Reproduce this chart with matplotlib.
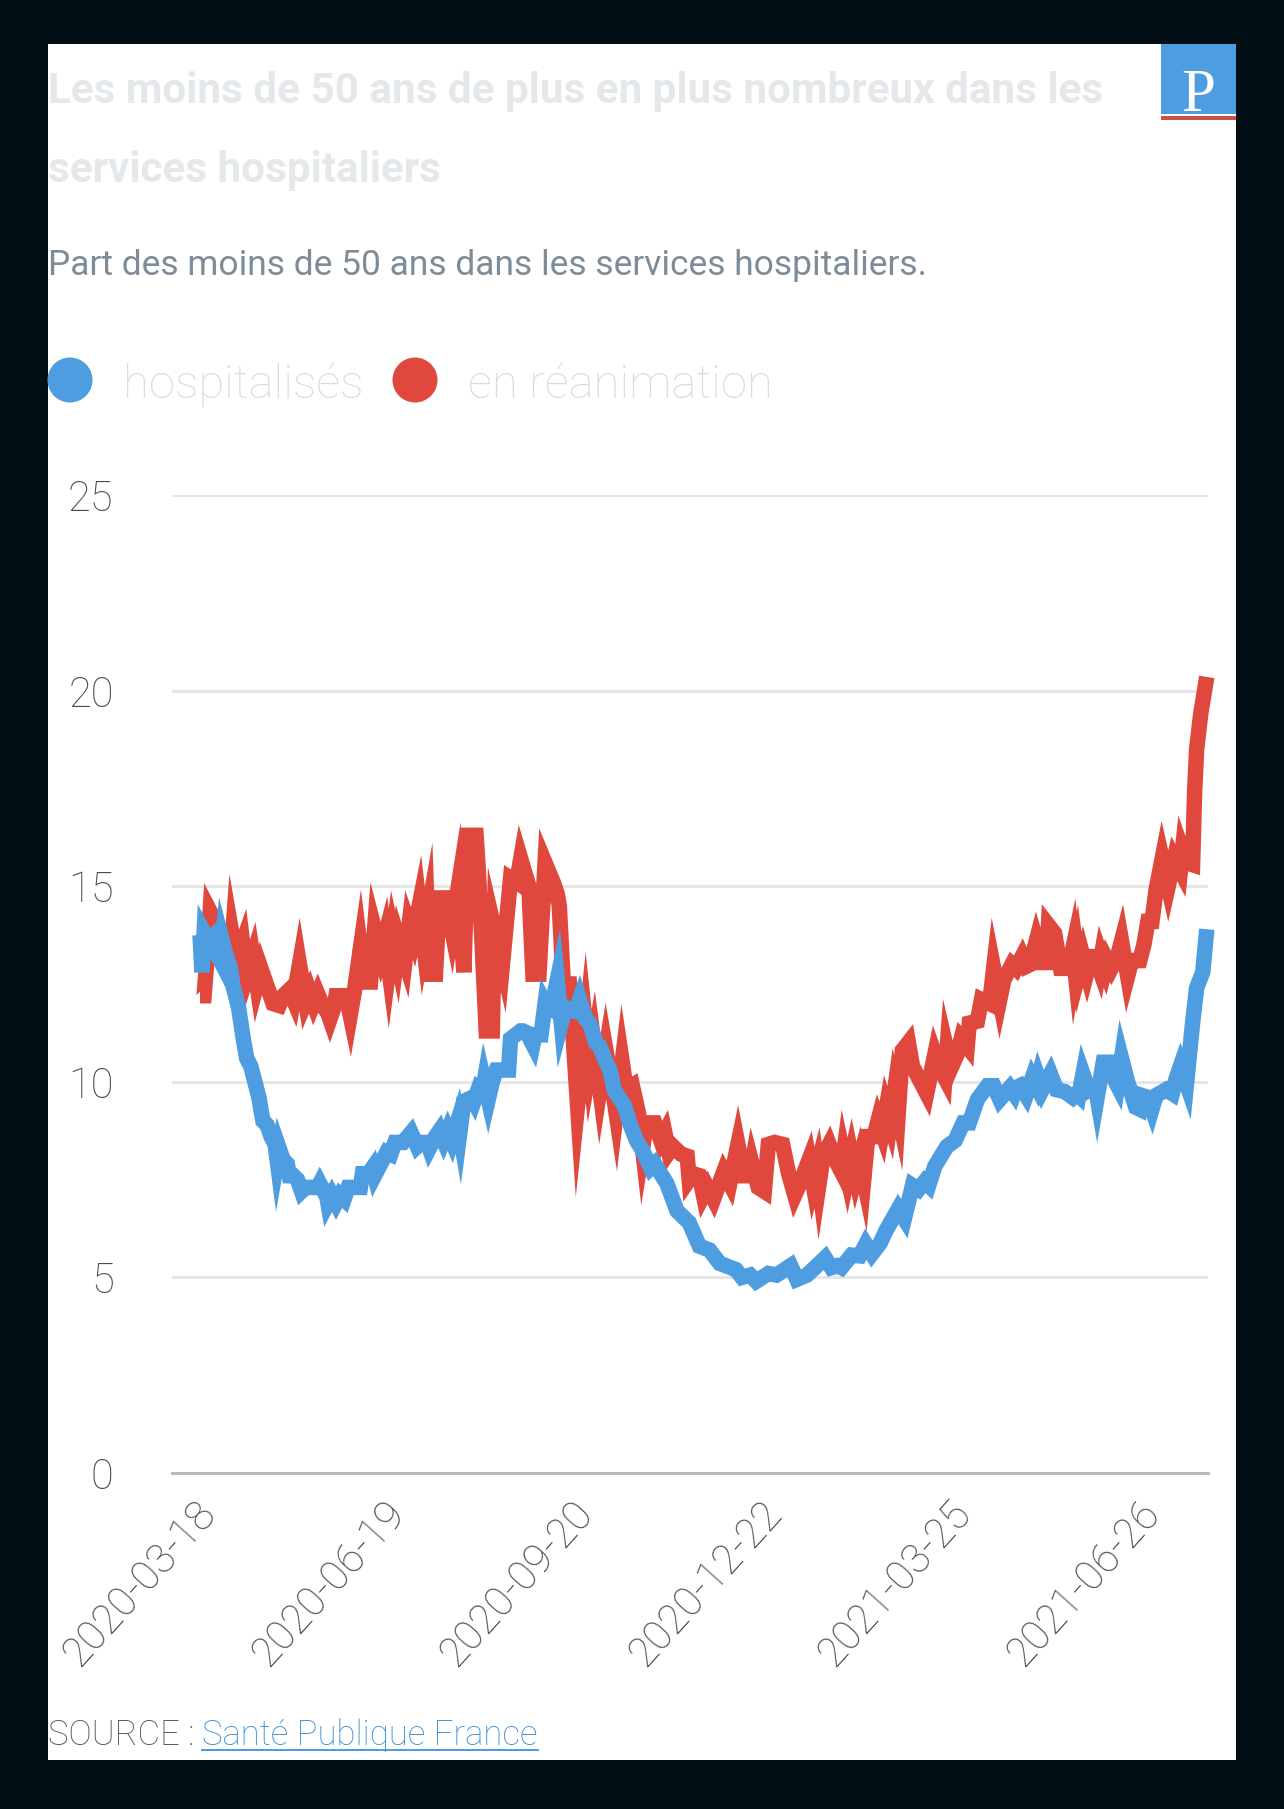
import matplotlib
matplotlib.use("Agg")
import matplotlib.pyplot as plt
from matplotlib.patches import Rectangle, Ellipse
from matplotlib.transforms import Bbox, Affine2D

title_lines = ["Les moins de 50 ans de plus en plus nombreux dans les", "services hospitaliers"]
subtitle = "Part des moins de 50 ans dans les services hospitaliers."
legend_labels = ["hospitalisés", "en réanimation"]
source_prefix = "SOURCE : "
source_link = "Santé Publique France"

x_tick_days = [0, 93, 186, 279, 372, 465]
x_tick_labels = ["2020-03-18", "2020-06-19", "2020-09-20", "2020-12-22", "2021-03-25", "2021-06-26"]
y_ticks = [0, 5, 10, 15, 20, 25]

blue_days = [0,1,2,4,6,8,10,11,13,15,16,19,21,23,25,27,29,31,33,35,37,38,39,41,43,44,46,48,50,52,54,56,58,59,61,62,63,65,67,69,71,73,75,79,80,83,85,86,88,90,92,94,96,100,104,107,109,112,113,116,118,120,122,124,127,128,129,130,134,135,137,139,140,142,144,146,152,153,158,159,161,164,165,168,170,171,173,176,178,180,182,185,187,190,192,195,197,200,202,204,207,209,212,215,218,222,224,230,235,241,246,251,256,264,267,271,274,280,284,291,294,299,304,308,311,314,316,321,325,328,331,335,338,344,347,351,354,357,359,362,368,372,376,379,383,388,391,394,399,401,402,404,407,410,412,413,415,419,422,426,430,432,433,435,436,438,441,442,445,448,451,452,454,457,461,463,464,467,469,471,476,479,481,483,486,489,491,494,496]
blue_vals = [13.75,12.8,13.8,13.6,13.7,13.3,13.1,13.6,13.2,12.9,12.5,11.9,11.2,10.6,10.4,10.0,9.6,9.0,8.9,8.6,8.4,8.0,8.3,8.0,7.9,7.6,7.6,7.5,7.2,7.3,7.3,7.3,7.3,7.4,7.2,7.2,6.9,7.1,6.9,7.1,7.0,7.3,7.3,7.3,7.65,7.65,7.8,7.6,7.8,8.0,8.2,8.15,8.45,8.45,8.7,8.35,8.45,8.45,8.3,8.6,8.75,8.5,8.75,8.5,9.0,8.7,9.1,9.5,9.6,9.5,9.8,9.7,10.0,9.55,10.0,10.3,10.3,11.1,11.3,11.3,11.25,10.95,11.2,11.2,12.0,11.9,11.85,12.6,11.5,11.9,11.85,11.8,12.1,11.6,11.5,11.0,10.9,10.5,10.3,9.8,9.55,9.4,8.9,8.5,8.25,7.8,7.9,7.4,6.7,6.4,5.8,5.7,5.36,5.2,5.0,5.06,4.9,5.1,5.06,5.3,4.95,5.06,5.3,5.5,5.25,5.3,5.25,5.57,5.55,5.85,5.6,5.87,6.2,6.75,6.5,7.35,7.25,7.45,7.35,7.84,8.35,8.5,8.95,8.95,9.55,9.9,9.9,9.55,9.85,9.7,9.85,9.9,9.65,10.1,9.9,10.1,9.8,10.2,9.8,9.75,9.6,9.7,9.65,10.2,10.05,9.8,9.9,9.6,10.5,10.5,10.0,9.9,10.6,10.0,9.35,9.3,9.65,9.6,9.3,9.65,9.8,9.7,10.1,10.4,9.95,11.5,12.4,12.8,13.9]

red_days = [0,2,4,5,7,9,11,13,15,16,18,21,23,26,28,30,33,36,39,41,44,46,49,52,54,56,58,60,63,64,66,67,72,74,76,79,81,84,86,89,91,93,95,97,98,101,103,105,108,110,112,113,116,118,121,124,127,130,132,136,137,139,141,144,145,149,153,156,158,162,164,167,170,174,176,177,179,182,183,186,190,192,194,197,200,203,205,208,210,213,216,218,220,224,227,229,231,233,237,240,241,243,246,248,250,253,258,261,265,268,271,272,275,278,280,283,287,290,293,296,300,302,304,305,307,310,313,316,317,319,321,323,325,327,329,332,334,336,338,340,342,344,346,349,351,355,358,362,364,367,368,370,373,375,378,379,383,385,389,391,394,396,400,402,405,407,409,412,415,417,418,421,424,428,430,431,432,433,435,437,439,441,443,444,446,447,449,452,454,456,457,459,462,463,465,467,469,471,474,477,480,483,484,486,489,490,491,493,496]
red_vals = [12.2,12.2,13.5,14.35,14.15,13.85,13.3,13.1,13.0,13.7,13.1,13.55,12.7,13.2,12.5,12.9,12.45,12.0,11.95,12.2,12.35,12.1,13.0,12.05,12.3,12.0,12.25,12.0,11.75,11.6,11.9,12.2,12.2,11.7,12.3,13.4,12.55,12.55,13.9,13.3,13.7,12.9,13.7,13.2,13.6,13.1,14.0,13.7,14.5,13.6,14.2,12.75,12.75,14.7,14.7,13.9,14.9,12.8,16.3,16.3,15.5,13.5,11.3,11.3,13.9,13.0,15.2,15.1,15.7,15.0,12.75,12.75,15.6,15.1,14.8,14.5,12.5,12.5,11.8,9.4,11.4,10.4,11.0,9.8,10.8,9.9,9.2,10.5,9.8,9.9,9.2,8.3,8.95,8.95,8.5,8.7,8.2,8.35,8.15,8.1,7.5,7.65,7.6,7.1,7.3,7.0,7.7,7.4,8.4,7.6,7.6,7.9,7.3,7.2,8.4,8.45,8.4,7.65,7.1,7.45,8.0,7.4,7.8,7.4,8.1,8.4,8.0,7.7,8.1,7.6,8.1,7.6,8.0,7.5,8.6,8.6,9.0,8.7,9.3,8.95,9.7,9.2,10.8,11.0,10.4,10.0,9.7,10.7,10.4,10.1,10.8,10.35,10.7,11.1,10.9,11.5,11.55,12.1,12.0,12.9,12.1,12.6,13.0,12.9,13.2,12.95,13.0,13.6,13.05,13.05,14.0,13.8,12.9,12.9,13.4,12.9,13.2,12.8,13.2,12.8,13.2,13.2,12.9,13.2,12.9,13.1,12.9,13.2,13.6,13.0,12.7,13.1,13.1,13.1,13.5,14.1,14.1,14.9,15.7,15.0,15.7,15.4,15.9,15.6,15.55,17.4,18.5,19.4,20.35]

BG = "#020f14"
BLUE = "#4d9de0"
RED = "#e0483e"
W, H = 1284, 1809
fig = plt.figure(figsize=(W/100, H/100), dpi=100, facecolor=BG)
px = 72/100
overlay = fig.add_axes([0, 0, 1, 1], zorder=0)
overlay.set_xlim(0, W); overlay.set_ylim(H, 0); overlay.axis("off")
overlay.add_patch(Rectangle((48, 44), 1188, 1716, fc="white", ec="none"))

ax = fig.add_axes([172/W, 1 - 1473/H, (1208-172)/W, (1473-495)/H], zorder=1)
ax.patch.set_alpha(0)
ax.set_xlim(-13.8, 496.6)
ax.set_ylim(0, 25)
for s in ax.spines.values():
    s.set_visible(False)
ax.set_yticks(y_ticks)
ax.grid(axis="y", color="#e6e6e6", lw=3*px, zorder=1)
ax.axhline(0, color="#bbbbbb", lw=3*px, zorder=1.5, clip_on=False)
ax.set_axisbelow(True)
ax.tick_params(axis="both", length=0)
lfam = "Roboto"
ax.set_xticks(x_tick_days)
ax.set_xticklabels(x_tick_labels, rotation=48, ha="right", va="top", rotation_mode="anchor",
                   fontsize=30, color="#4a4a4a", family=lfam, fontweight="light")
ax.set_yticklabels([str(v) for v in y_ticks], fontsize=30, color="#4a4a4a", family=lfam, fontweight="light")
ax.tick_params(axis="y", pad=42)
ax.tick_params(axis="x", pad=10)
clip = Bbox([[0, H-1670], [W, H-1480]])
for lab in ax.get_xticklabels():
    lab.set_clip_box(clip)
    lab.set_clip_on(True)
    lab.set_transform(lab.get_transform() + Affine2D().translate(-6, -6))

ax.plot(red_days, red_vals, color=RED, lw=15.5*px, solid_joinstyle="miter", solid_capstyle="butt", clip_on=False, zorder=3)
ax.plot(blue_days, blue_vals, color=BLUE, lw=15.5*px, solid_joinstyle="miter", solid_capstyle="butt", clip_on=False, zorder=4)

T = overlay.text
T(48, 103, title_lines[0], fontsize=30.4, family="Roboto", fontweight="bold", color="#e5e8ea", va="baseline")
T(48, 182, title_lines[1], fontsize=30.4, family="Roboto", fontweight="bold", color="#e5e8ea", va="baseline")
T(48, 275, subtitle, fontsize=25.5, family="Roboto", color="#7d8c98", va="baseline")
overlay.add_patch(Ellipse((70, 380), 45, 45, fc=BLUE, ec="none"))
overlay.add_patch(Ellipse((415, 380), 45, 45, fc=RED, ec="none"))
T(123, 398, legend_labels[0], fontsize=34, family=lfam, fontweight="light", color="#d8dce0", va="baseline")
T(468, 398, legend_labels[1], fontsize=34, family=lfam, fontweight="light", color="#d8dce0", va="baseline")
T(48, 1745, source_prefix, fontsize=25, family=lfam, fontweight="light", color="#555555", va="baseline")
T(202, 1745, source_link, fontsize=25, family=lfam, fontweight="light", color="#3f8fd6", va="baseline")
overlay.plot([202, 538], [1750, 1750], color=BLUE, lw=2*px)

overlay.add_patch(Rectangle((1161, 44), 75, 70, fc=BLUE, ec="none"))
overlay.add_patch(Rectangle((1161, 116), 75, 3.5, fc="#c9504a", ec="none"))
T(1198, 111, "P", fontsize=44, family="Liberation Serif", color="white", ha="center", va="baseline")

fig.savefig("out.png", dpi=100, facecolor=BG)
